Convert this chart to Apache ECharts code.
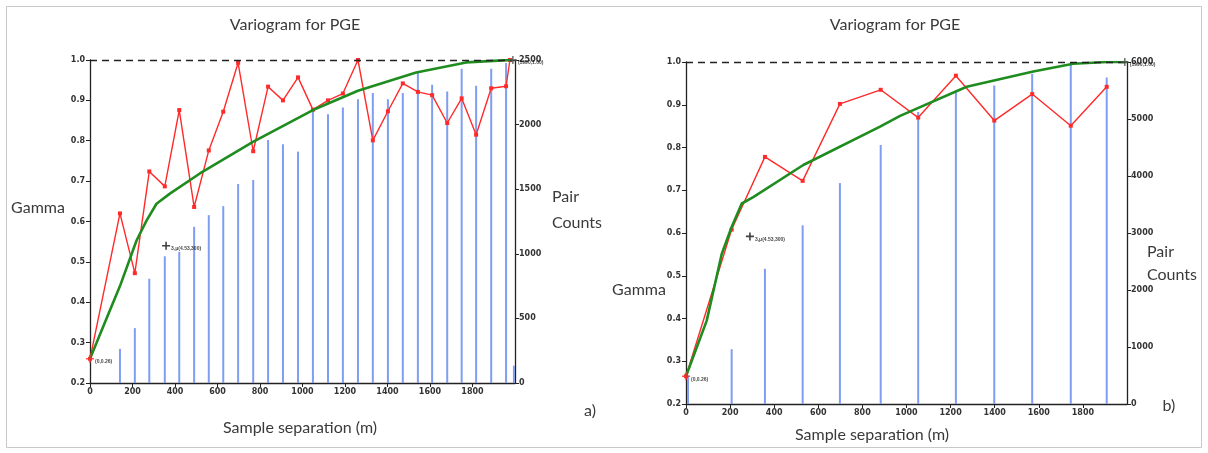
<!DOCTYPE html>
<html>
<head>
<meta charset="utf-8">
<script src="https://cdn.jsdelivr.net/npm/echarts@6/dist/echarts.min.js"></script>
<style>html,body{margin:0;padding:0;background:#fff}#c{width:1208px;height:453px}</style>
</head>
<body>
<div id="c"></div>
<script>
// ---------- Panel a ----------
const lagsA  = [0,141,211,279,352,420,490,559,627,697,768,838,908,979,1049,1120,1190,1261,1331,1402,1472,1543,1610,1681,1749,1817,1888,1958,1976];
const gammaA = [0.26,0.62,0.472,0.724,0.687,0.876,0.636,0.776,0.872,0.993,0.774,0.934,0.90,0.957,0.877,0.90,0.917,1.0,0.801,0.873,0.942,0.921,0.913,0.844,0.905,0.815,0.930,0.935,1.0];
const pairLagsA = [141,211,279,352,420,490,559,627,697,768,838,908,979,1049,1120,1190,1261,1331,1402,1472,1543,1610,1681,1749,1817,1888,1958,1995];
const pairsA    = [264,425,807,981,1015,1209,1299,1369,1540,1571,1881,1848,1791,2120,2081,2133,2197,2244,2197,2244,2412,2308,2257,2433,2301,2433,2477,134];
const modelLagsA  = [0,70,141,219,266,313,376,517,767,1049,1261,1535,1770,1942,1990];
const modelGammaA = [0.26,0.35,0.44,0.553,0.602,0.644,0.669,0.719,0.797,0.876,0.924,0.969,0.994,0.999,1.0];

// ---------- Panel b ----------
const lagsB  = [0,207,358,529,698,883,1053,1224,1398,1570,1745,1908];
const gammaB = [0.265,0.608,0.778,0.722,0.902,0.935,0.870,0.968,0.863,0.925,0.851,0.942];
const pairLagsB = [9,207,358,529,698,883,1053,1224,1398,1570,1745,1908];
const pairsB    = [500,962,2372,3135,3876,4545,5122,5484,5589,5794,5984,5729];
const modelLagsB  = [0,94,162,207,253,305,532,880,971,1273,1575,1756,1908,2000];
const modelGammaB = [0.265,0.395,0.551,0.614,0.669,0.684,0.759,0.849,0.874,0.942,0.978,0.996,1.0,1.0];

// axis ranges
const gammaRange = [0.2, 1.0];
const pairsRangeA = [0, 2500];
const pairsRangeB = [0, 6000];
const sillGamma = 1.0;

// annotations (data coordinates)
const annotA = {pt:[358,0.54], text:'3,μ(4.53,300)'};
const annotB = {pt:[290,0.592], text:'3,μ(4.53,300)'};
const originA = {pt:[0,0.26], text:'(0,0.26)'};
const originB = {pt:[0,0.265], text:'(0,0.26)'};
const endA = {pt:[1990,1.0], text:'(1990,1.00)'};
const endB = {pt:[1990,1.0], text:'(1990,1.00)'};

const zip = (a,b) => a.map((v,i)=>[v,b[i]]);

const axisTxt = {fontSize:8, fontWeight:'bold', color:'#333', fontFamily:'DejaVu Sans'};
const axLine = {show:true, lineStyle:{color:'#222', width:1.3}};
const ticks = {show:true, length:4, lineStyle:{color:'#222'}};

function xAxis(grid){
  return {type:'value', gridIndex:grid, min:0, max:2000, interval:200,
    axisLine:axLine, axisTick:ticks, splitLine:{show:false},
    axisLabel:Object.assign({margin:5, showMaxLabel:false, formatter:v=>String(v)}, axisTxt)};
}
function yGamma(grid){
  return {type:'value', gridIndex:grid, min:gammaRange[0], max:gammaRange[1], interval:0.1, position:'left',
    axisLine:axLine, axisTick:ticks, splitLine:{show:false},
    axisLabel:Object.assign({margin:5, formatter:v=>v.toFixed(1)}, axisTxt)};
}
function yPairs(grid, rng, iv){
  return {type:'value', gridIndex:grid, min:rng[0], max:rng[1], interval:iv, position:'right',
    axisLine:axLine, axisTick:ticks, splitLine:{show:false},
    axisLabel:Object.assign({margin:4, formatter:v=>String(v)}, axisTxt)};
}
const plus = 'path://M4,0H6V4H10V6H6V10H4V6H0V4H4Z';
function annot(xi, yi, a, color){
  return {type:'scatter', xAxisIndex:xi, yAxisIndex:yi, symbol:plus, symbolSize:8, z:6,
    itemStyle:{color:color}, data:[a.pt],
    label:{show:true, position:'right', distance:1, formatter:a.text, fontSize:5, fontWeight:'bold', color:'#111', offset:[0,3]}};
}
function seriesFor(xi, yg, yp, lags, gam, plags, pairs, mlags, mgam){
  return [
    {type:'bar', xAxisIndex:xi, yAxisIndex:yp, barWidth:2, itemStyle:{color:'#7f9ef2'}, data:zip(plags,pairs), z:1},
    {type:'line', xAxisIndex:xi, yAxisIndex:yg, data:zip(lags,gam), z:3,
      lineStyle:{color:'#ff2a2a', width:1.4}, itemStyle:{color:'#ff2a2a'}, symbol:'rect', symbolSize:4, showSymbol:true,
      markLine:{silent:true, symbol:'none', label:{show:false}, lineStyle:{type:[7,5], color:'#222', width:1.3}, data:[{yAxis:sillGamma}]}},
    {type:'line', xAxisIndex:xi, yAxisIndex:yg, data:zip(mlags,mgam), z:4, smooth:false,
      showSymbol:false, lineStyle:{color:'#1f8c1f', width:2.6, join:'round'}}
  ];
}

const txt = (x,y,t,opt) => ({type:'text', x:x, y:y, style:Object.assign({text:t, fontFamily:'Lato', fontSize:16, fill:'#3a3a3a', align:'center', verticalAlign:'middle'}, opt||{})});

const chart = echarts.init(document.getElementById('c'), null, {renderer:'canvas'});
chart.setOption({
  animation:false,
  backgroundColor:'#fff',
  grid:[
    {left:90, right:693, top:60, bottom:70},
    {left:686, right:81, top:62, bottom:49}
  ],
  xAxis:[xAxis(0), xAxis(1)],
  yAxis:[yGamma(0), yPairs(0,pairsRangeA,500), yGamma(1), yPairs(1,pairsRangeB,1000)],
  series:[
    ...seriesFor(0,0,1,lagsA,gammaA,pairLagsA,pairsA,modelLagsA,modelGammaA),
    ...seriesFor(1,2,3,lagsB,gammaB,pairLagsB,pairsB,modelLagsB,modelGammaB),
    annot(0,0,annotA,'#111'), annot(1,2,annotB,'#111'),
    annot(0,0,originA,'#ff2a2a'), annot(1,2,originB,'#ff2a2a'),
    annot(0,0,endA,'#555'), annot(1,2,endB,'#555')
  ],
  graphic:[
    {type:'rect', shape:{x:6.5,y:6.5,width:1195,height:441}, style:{fill:'none', stroke:'#c8c8c8', lineWidth:1}},
    txt(295,25,'Variogram for PGE'),
    txt(895,25,'Variogram for PGE'),
    txt(38,208,'Gamma'),
    txt(552,197,'Pair',{align:'left'}),
    txt(552,223,'Counts',{align:'left'}),
    txt(300,428,'Sample separation (m)'),
    txt(590,411,'a)'),
    txt(639,290,'Gamma'),
    txt(1147,252,'Pair',{align:'left'}),
    txt(1147,275,'Counts',{align:'left'}),
    txt(872,435,'Sample separation (m)'),
    txt(1169,406,'b)')
  ]
});
</script>
</body>
</html>
